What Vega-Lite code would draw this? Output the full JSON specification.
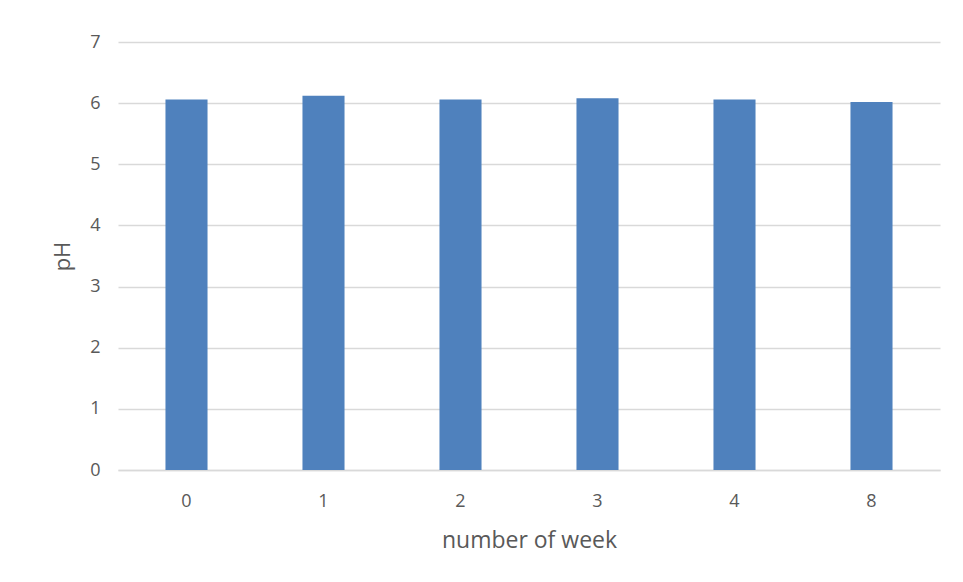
{
  "$schema": "https://vega.github.io/schema/vega-lite/v6.json",
  "autosize": {"type": "none"},
  "width": 822,
  "height": 428,
  "padding": {"left": 118, "top": 42, "right": 23, "bottom": 112},
  "background": "white",
  "data": {"values": [
    {"week": "0", "pH": 6.06},
    {"week": "1", "pH": 6.12},
    {"week": "2", "pH": 6.06},
    {"week": "3", "pH": 6.08},
    {"week": "4", "pH": 6.06},
    {"week": "8", "pH": 6.02}
  ]},
  "mark": {"type": "bar", "color": "#4F81BD"},
  "encoding": {
    "x": {
      "field": "week", "type": "ordinal", "sort": null,
      "scale": {"paddingInner": 0.693, "paddingOuter": 0.3465},
      "axis": {
        "title": "number of week", "labelAngle": 0, "ticks": false,
        "domain": true, "domainColor": "#d9d9d9", "domainWidth": 1.5,
        "labelPadding": 22, "titlePadding": 19,
        "labelFont": "Open Sans", "labelFontSize": 18, "labelColor": "#595959",
        "titleFont": "Open Sans", "titleFontSize": 23, "titleFontWeight": "normal", "titleColor": "#595959"
      }
    },
    "y": {
      "field": "pH", "type": "quantitative",
      "scale": {"domain": [0, 7]},
      "axis": {
        "title": "pH", "values": [0, 1, 2, 3, 4, 5, 6, 7], "ticks": false, "domain": false,
        "grid": true, "gridColor": "#d9d9d9", "gridWidth": 1.5,
        "labelPadding": 18, "titlePadding": 15,
        "labelFont": "Open Sans", "labelFontSize": 18, "labelColor": "#595959",
        "titleFont": "Open Sans", "titleFontSize": 22, "titleFontWeight": "normal", "titleColor": "#595959"
      }
    }
  },
  "config": {"view": {"stroke": null}}
}
